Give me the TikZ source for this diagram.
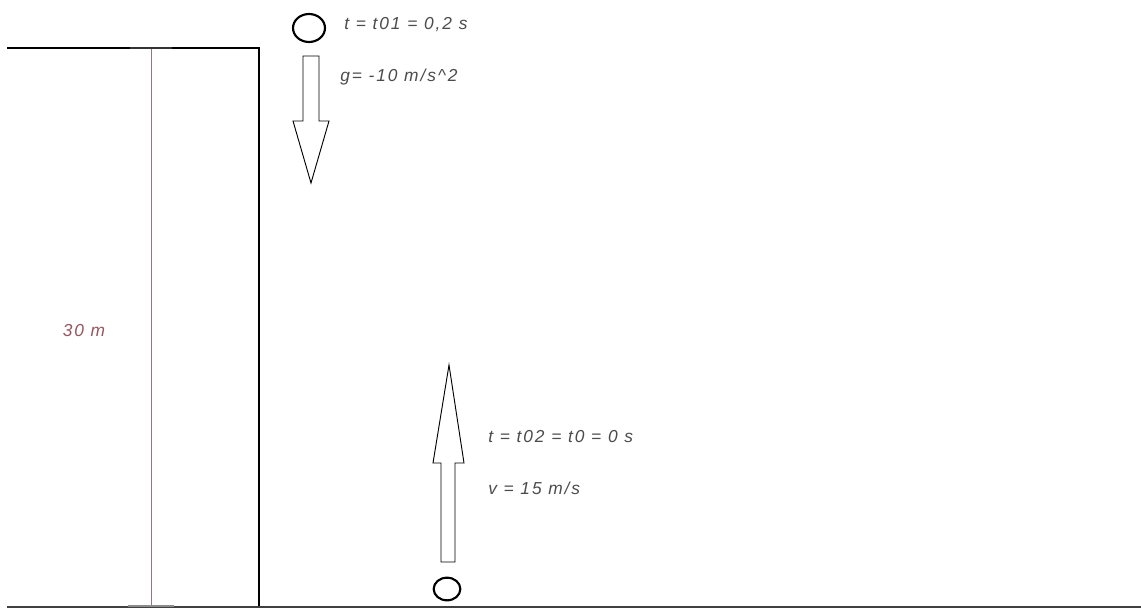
\documentclass[tikz,border=0pt]{standalone}
\usepackage{fontspec}
\setmainfont{Liberation Sans}
\usetikzlibrary{shapes.geometric}
\definecolor{dimcol}{RGB}{150,120,120}
\definecolor{labred}{RGB}{150,85,95}
\begin{document}
\begin{tikzpicture}[x=0.75pt,y=-0.75pt,
  wall/.style={line width=1.6pt,black},
  dim/.style={line width=0.6pt,color=dimcol},
  ball/.style={draw,line width=1.6pt,ellipse,inner sep=0pt},
  lab/.style={font=\fontsize{13}{15}\selectfont\itshape\addfontfeatures{LetterSpace=11},text=black!70,anchor=west,inner sep=0pt},
  arr/.style={draw,line width=0.7pt,fill=white,line join=miter}]
\useasboundingbox (0,0) rectangle (1141,610);
\fill[white] (0,0) rectangle (1141,610);
% building
\coordinate (wtl) at (7,48);
\coordinate (wtr) at (259,48);
\coordinate (wbr) at (259,607);
\coordinate (gl) at (7,607);
\coordinate (gr) at (1141,607);
\draw[wall] (wtl) -- (wtr) -- (wbr);
\draw[line width=1.4pt,black!75] (gl) -- (gr);
% dimension
\coordinate (dt) at (151,48);
\coordinate (db) at (151,606);
\draw[dim] (dt) -- (db);
\draw[line width=2pt,black!80] (130,48) -- (172,48);
\draw[line width=2pt,black!45] (128,606) -- (174,606);
\node[lab,text=labred,anchor=center] (h) at (84,331) {30 m};
% top ball
\node[ball,minimum width=24pt,minimum height=21pt] (b1) at (309,28) {};
\node[lab] (t1) at (344,25) {t = t01 = 0,2 s};
\node[lab] (g) at (340,77) {g= -10 m/s\^{}2};
\draw[arr] (303,56) -- (319,56) -- (319,121) -- (329,121) -- (311,183) -- (293,121) -- (303,121) -- cycle;
% bottom ball
\node[ball,minimum width=20pt,minimum height=17pt] (b2) at (447,589) {};
\draw[arr] (441,562) -- (455,562) -- (455,463) -- (464,463) -- (449,365) -- (433,463) -- (441,463) -- cycle;
\node[lab] (t2) at (488,437) {t = t02 = t0 = 0 s};
\node[lab] (v) at (488,488) {v = 15 m/s};
\end{tikzpicture}
\end{document}
